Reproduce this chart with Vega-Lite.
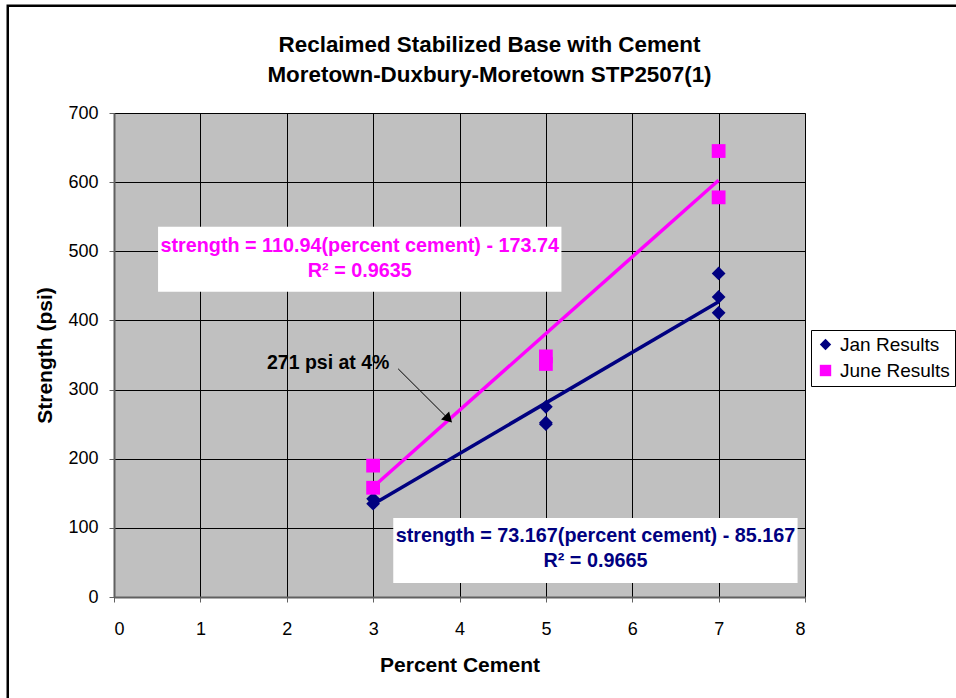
{
  "$schema": "https://vega.github.io/schema/vega-lite/v6.json",
  "width": 691,
  "height": 484,
  "autosize": "none",
  "padding": {"left": 114, "top": 113, "right": 151, "bottom": 101},
  "background": "white",
  "config": {
    "font": "Liberation Sans",
    "view": {"fill": "#C0C0C0", "stroke": "#808080", "strokeWidth": 1},
    "axis": {
      "gridColor": "#000000", "gridOpacity": 1, "gridWidth": 1,
      "domainColor": "#606060", "domainWidth": 2,
      "tickColor": "#606060", "tickSize": 5, "tickWidth": 1,
      "labelFont": "Liberation Sans", "labelFontSize": 18, "labelColor": "#000000",
      "titleFont": "Liberation Sans", "titleFontSize": 21, "titleFontWeight": "bold", "titleColor": "#000000"
    }
  },
  "title": {
    "text": ["Reclaimed Stabilized Base with Cement", "Moretown-Duxbury-Moretown STP2507(1)"],
    "font": "Liberation Sans", "fontSize": 22.4, "fontWeight": "bold", "color": "#000000",
    "lineHeight": 30, "anchor": "middle", "dx": 30, "offset": -82, "frame": "group"
  },
  "datasets": {
    "points": [
      {"cement": 3, "strength": 135, "series": "Jan Results"},
      {"cement": 3, "strength": 142, "series": "Jan Results"},
      {"cement": 5, "strength": 275, "series": "Jan Results"},
      {"cement": 5, "strength": 250, "series": "Jan Results"},
      {"cement": 5, "strength": 252, "series": "Jan Results"},
      {"cement": 7, "strength": 468, "series": "Jan Results"},
      {"cement": 7, "strength": 434, "series": "Jan Results"},
      {"cement": 7, "strength": 411, "series": "Jan Results"},
      {"cement": 3, "strength": 190, "series": "June Results"},
      {"cement": 3, "strength": 158, "series": "June Results"},
      {"cement": 5, "strength": 348, "series": "June Results"},
      {"cement": 5, "strength": 337, "series": "June Results"},
      {"cement": 7, "strength": 645, "series": "June Results"},
      {"cement": 7, "strength": 578, "series": "June Results"}
    ],
    "trend": [
      {"cement": 3, "strength": 134.3, "series": "Jan Results"},
      {"cement": 7, "strength": 427.0, "series": "Jan Results"},
      {"cement": 3, "strength": 159.1, "series": "June Results"},
      {"cement": 7, "strength": 602.8, "series": "June Results"}
    ],
    "boxes": [
      {"x1": 0.51, "x2": 5.18, "y1": 441.4, "y2": 535.5, "series": "June Results"},
      {"x1": 3.233, "x2": 7.914, "y1": 20.3, "y2": 114.3, "series": "Jan Results"}
    ],
    "boxtext": [
      {"x": 2.845, "y": 508, "label": "strength = 110.94(percent cement) - 173.74", "series": "June Results"},
      {"x": 2.845, "y": 472, "label": "R² = 0.9635", "series": "June Results"},
      {"x": 5.574, "y": 88.3, "label": "strength = 73.167(percent cement) - 85.167", "series": "Jan Results"},
      {"x": 5.574, "y": 52.1, "label": "R² = 0.9665", "series": "Jan Results"}
    ],
    "note": [
      {"x": 2.48, "y": 339, "label": "271 psi at 4%", "ax": 3.29, "ay": 330, "tx": 3.86, "ty": 259}
    ]
  },
  "layer": [
    {
      "data": {"name": "trend"},
      "transform": [{"filter": "datum.series === 'June Results'"}],
      "mark": {"type": "line", "color": "#FF00FF", "strokeWidth": 3.5},
      "encoding": {
        "x": {"field": "cement", "type": "quantitative", "scale": {"domain": [0, 8], "nice": false},
              "axis": {"values": [0,1,2,3,4,5,6,7,8], "format": "d", "title": "Percent Cement", "labelPadding": 18, "titlePadding": 16, "grid": true}},
        "y": {"field": "strength", "type": "quantitative", "scale": {"domain": [0, 700], "nice": false},
              "axis": {"values": [0,100,200,300,400,500,600,700], "format": "d", "title": "Strength (psi)", "labelPadding": 11, "titlePadding": 12, "grid": true}}
      }
    },
    {
      "data": {"name": "trend"},
      "transform": [{"filter": "datum.series === 'Jan Results'"}],
      "mark": {"type": "line", "color": "#000080", "strokeWidth": 3.5},
      "encoding": {
        "x": {"field": "cement", "type": "quantitative"},
        "y": {"field": "strength", "type": "quantitative"}
      }
    },
    {
      "data": {"name": "points"},
      "mark": {"type": "point", "filled": true, "opacity": 1, "size": 190},
      "encoding": {
        "x": {"field": "cement", "type": "quantitative"},
        "y": {"field": "strength", "type": "quantitative"},
        "color": {"field": "series", "type": "nominal",
                  "scale": {"domain": ["Jan Results", "June Results"], "range": ["#000080", "#FF00FF"]},
                  "legend": {"title": null, "orient": "none", "legendX": 697, "legendY": 217,
                             "labelFont": "Liberation Sans", "labelFontSize": 19, "labelColor": "#000000",
                             "symbolSize": 130, "symbolStrokeWidth": 0, "strokeColor": "#000000", "fillColor": "#FFFFFF",
                             "padding": 5, "rowPadding": 6, "labelOffset": 5, "symbolOpacity": 1}},
        "shape": {"field": "series", "type": "nominal",
                  "scale": {"domain": ["Jan Results", "June Results"], "range": ["diamond", "square"]}}
      }
    },
    {
      "data": {"name": "note"},
      "mark": {"type": "rule", "color": "#000000", "strokeWidth": 1},
      "encoding": {
        "x": {"field": "ax", "type": "quantitative"},
        "y": {"field": "ay", "type": "quantitative"},
        "x2": {"field": "tx"},
        "y2": {"field": "ty"}
      }
    },
    {
      "data": {"name": "note"},
      "mark": {"type": "point", "shape": "triangle", "filled": true, "color": "#000000", "opacity": 1, "size": 130, "angle": 135},
      "encoding": {
        "x": {"field": "tx", "type": "quantitative"},
        "y": {"field": "ty", "type": "quantitative"}
      }
    },
    {
      "data": {"name": "note"},
      "mark": {"type": "text", "fontSize": 19.5, "fontWeight": "bold", "color": "#000000", "align": "center", "baseline": "middle"},
      "encoding": {
        "x": {"field": "x", "type": "quantitative"},
        "y": {"field": "y", "type": "quantitative"},
        "text": {"field": "label"}
      }
    },
    {
      "data": {"name": "boxes"},
      "mark": {"type": "rect", "fill": "#FFFFFF", "stroke": null},
      "encoding": {
        "x": {"field": "x1", "type": "quantitative"},
        "x2": {"field": "x2"},
        "y": {"field": "y1", "type": "quantitative"},
        "y2": {"field": "y2"}
      }
    },
    {
      "data": {"name": "boxtext"},
      "transform": [{"filter": "datum.series === 'June Results'"}],
      "mark": {"type": "text", "fontSize": 19.8, "fontWeight": "bold", "color": "#FF00FF", "align": "center", "baseline": "middle"},
      "encoding": {
        "x": {"field": "x", "type": "quantitative"},
        "y": {"field": "y", "type": "quantitative"},
        "text": {"field": "label"}
      }
    },
    {
      "data": {"name": "boxtext"},
      "transform": [{"filter": "datum.series === 'Jan Results'"}],
      "mark": {"type": "text", "fontSize": 19.8, "fontWeight": "bold", "color": "#000080", "align": "center", "baseline": "middle"},
      "encoding": {
        "x": {"field": "x", "type": "quantitative"},
        "y": {"field": "y", "type": "quantitative"},
        "text": {"field": "label"}
      }
    },
    {
      "data": {"values": [{"frame": 1}]},
      "mark": {"type": "rect", "fill": null, "stroke": "#000000", "strokeWidth": 2.5, "clip": false},
      "encoding": {
        "x": {"datum": -1.23, "type": "quantitative"},
        "x2": {"datum": 12},
        "y": {"datum": 855, "type": "quantitative"},
        "y2": {"datum": -300}
      }
    }
  ]
}
